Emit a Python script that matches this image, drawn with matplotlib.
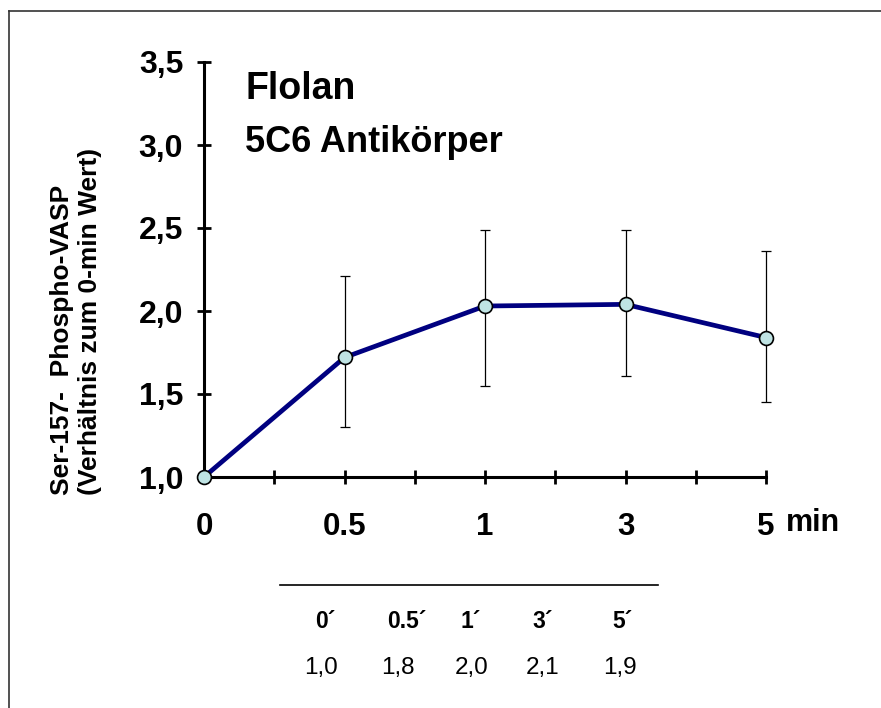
import matplotlib
matplotlib.use("Agg")
import matplotlib.pyplot as plt
from matplotlib.lines import Line2D

plt.rcParams['font.family'] = ['Liberation Sans', 'DejaVu Sans']

# data
time_labels = ["0", "0.5", "1", "3", "5"]
ratio_mean = [1.0, 1.72, 2.03, 2.04, 1.84]
err_top = [1.0, 2.21, 2.49, 2.49, 2.36]
err_bottom = [1.0, 1.30, 1.55, 1.61, 1.45]
y_ticks = [1.0, 1.5, 2.0, 2.5, 3.0, 3.5]
y_tick_labels = ["1,0", "1,5", "2,0", "2,5", "3,0", "3,5"]
table_head = ["0\u00b4", "0.5\u00b4", "1\u00b4", "3\u00b4", "5\u00b4"]
table_vals = ["1,0", "1,8", "2,0", "2,1", "1,9"]

W, H = 881, 708


def fx(px):
    return px / W


def fy(py):
    return 1 - py / H


fig = plt.figure(figsize=(W / 100, H / 100), dpi=100)

# frame lines (left and top only)
fig.add_artist(Line2D([fx(9), fx(9)], [fy(11), 0], color="#333333", lw=1.2))
fig.add_artist(Line2D([fx(9), 1], [fy(11), fy(11)], color="#333333", lw=1.2))

ax = fig.add_axes([fx(204), fy(477), fx(766) - fx(204), fy(62) - fy(477)])
x = list(range(len(time_labels)))

lower = [m - b for m, b in zip(ratio_mean, err_bottom)]
upper = [t - m for m, t in zip(ratio_mean, err_top)]
eb = ax.errorbar(x[1:], ratio_mean[1:], yerr=[lower[1:], upper[1:]], fmt="none",
                 ecolor="black", elinewidth=0.9, capsize=3.6, capthick=0.9, zorder=2)
for art in eb.lines[1] + eb.lines[2]:
    art.set_clip_on(False)
ax.plot(x, ratio_mean, color="#000080", lw=3.4, zorder=3, clip_on=False)
ax.plot(x, ratio_mean, "o", ms=10, mfc="#bfe3e3", mec="black", mew=1.2,
        zorder=4, clip_on=False)

ax.set_xlim(0, 4)
ax.set_ylim(1.0, 3.5)
for s in ["top", "right"]:
    ax.spines[s].set_visible(False)
for s in ["left", "bottom"]:
    ax.spines[s].set_linewidth(2.2)

ax.set_yticks(y_ticks)
ax.set_yticklabels(y_tick_labels, fontsize=23, fontweight="bold")
ax.set_xticks(x)
ax.set_xticklabels(time_labels, fontsize=22.5, fontweight="bold")
ax.set_xticks([i + 0.5 for i in x[:-1]], minor=True)
ax.tick_params(axis="y", direction="inout", length=10, width=2, pad=10)
ax.tick_params(axis="x", which="both", direction="inout", length=10, width=2, pad=20)
ax.get_xticklabels()[-1].set_x(3.95)

fig.text(fx(786), fy(523), "min", fontsize=22, fontweight="bold", va="center")

fig.text(fx(245), fy(99), "Flolan", fontsize=27, fontweight="bold", va="baseline")
fig.text(fx(245), fy(152), "5C6 Antik\u00f6rper", fontsize=26, fontweight="bold",
         va="baseline")

fig.text(fx(76), fy(495), "Ser-157-  Phospho-VASP\n(Verh\u00e4ltnis zum 0-min Wert)",
         rotation=90, fontsize=19, fontweight="bold", ha="center", va="bottom",
         multialignment="left", linespacing=1.2)

# small table below the chart
fig.add_artist(Line2D([fx(280), fx(658)], [fy(585), fy(585)], color="black", lw=1.2))
head_x = [325, 407, 471, 543, 622]
val_x = [321, 398, 472, 543, 620]
for hx, h in zip(head_x, table_head):
    fig.text(fx(hx), fy(622), h, fontsize=16.5, fontweight="bold", ha="center", va="center")
for vx, v in zip(val_x, table_vals):
    fig.text(fx(vx), fy(668), v, fontsize=17.5, ha="center", va="center")

fig.savefig("out.png", dpi=100)
